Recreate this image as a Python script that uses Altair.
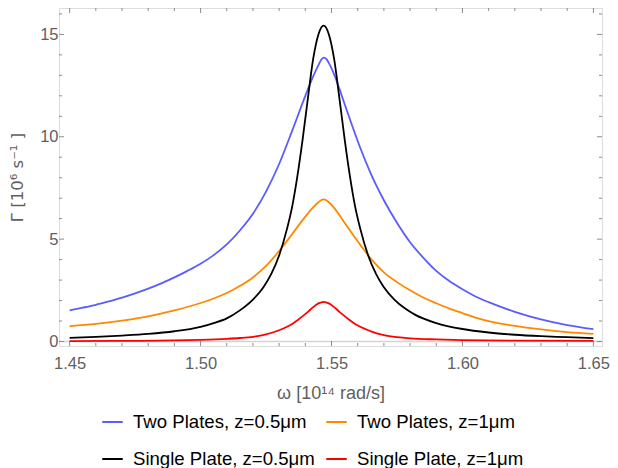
import altair as alt
import pandas as pd

# ---------------- data ----------------
series_names = ["Two Plates, z=0.5μm", "Two Plates, z=1μm",
                "Single Plate, z=0.5μm", "Single Plate, z=1μm"]
series_colors = ["#5B5BFF", "#FF8800", "#000000", "#FF0000"]

blue_w = [1.45, 1.455, 1.46, 1.465, 1.47, 1.475, 1.48, 1.485, 1.49, 1.495, 1.50,
          1.505, 1.51, 1.515, 1.52, 1.525, 1.53, 1.535, 1.54, 1.543, 1.545,
          1.546, 1.547, 1.548, 1.549, 1.551, 1.553, 1.555, 1.558, 1.561, 1.565,
          1.57, 1.575, 1.58, 1.585, 1.59, 1.595, 1.60, 1.605, 1.61, 1.62,
          1.63, 1.64, 1.65]
blue_g = [1.52, 1.65, 1.79, 1.96, 2.14, 2.35, 2.58, 2.84, 3.13, 3.45, 3.8,
          4.22, 4.74, 5.42, 6.24, 7.32, 8.67, 10.3, 12.0, 12.95, 13.5,
          13.75, 13.87, 13.8, 13.6, 13.05, 12.35, 11.6, 10.5, 9.45, 8.2,
          6.9, 5.8, 4.85, 4.1, 3.45, 2.95, 2.55, 2.2, 1.92, 1.45,
          1.08, 0.80, 0.60]

orange_w = [1.45, 1.46, 1.47, 1.48, 1.49, 1.50, 1.505, 1.51, 1.515, 1.52, 1.525,
            1.53, 1.535, 1.54, 1.543, 1.545, 1.546, 1.547, 1.548, 1.549, 1.551,
            1.553, 1.555, 1.558, 1.561, 1.565, 1.57, 1.575, 1.58, 1.585, 1.59,
            1.595, 1.60, 1.605, 1.61, 1.62, 1.63, 1.64, 1.65]
orange_g = [0.75, 0.86, 1.02, 1.23, 1.52, 1.88, 2.1, 2.37, 2.71, 3.13, 3.69,
            4.42, 5.25, 6.1, 6.55, 6.8, 6.9, 6.94, 6.9, 6.8, 6.53,
            6.18, 5.8, 5.25, 4.72, 4.05, 3.38, 2.9, 2.5, 2.15, 1.87,
            1.61, 1.39, 1.17, 1.0, 0.76, 0.59, 0.46, 0.37]

black_w = [1.45, 1.46, 1.47, 1.48, 1.49, 1.50, 1.505, 1.51, 1.515, 1.52, 1.524,
           1.527, 1.530, 1.533, 1.535, 1.537, 1.539, 1.541, 1.543, 1.545, 1.547,
           1.549, 1.551, 1.553, 1.555, 1.557, 1.559, 1.561, 1.564, 1.567, 1.570,
           1.574, 1.578, 1.582, 1.59, 1.60, 1.61, 1.62, 1.63, 1.64, 1.65]
black_g = [0.18, 0.23, 0.29, 0.37, 0.50, 0.72, 0.9, 1.13, 1.52, 2.05, 2.65,
           3.3, 4.2, 5.5, 6.6, 8.1, 9.9, 11.9, 13.8, 15.0, 15.43,
           15.0, 13.8, 11.9, 9.9, 8.1, 6.6, 5.5, 4.2, 3.3, 2.65,
           2.05, 1.62, 1.3, 0.9, 0.61, 0.44, 0.33, 0.26, 0.21, 0.16]

red_w = [1.45, 1.47, 1.49, 1.50, 1.51, 1.515, 1.52, 1.525, 1.53, 1.533, 1.535,
         1.537, 1.539, 1.541, 1.543, 1.545, 1.547, 1.549, 1.551, 1.553, 1.555,
         1.557, 1.559, 1.561, 1.564, 1.567, 1.57, 1.575, 1.58, 1.59, 1.60,
         1.62, 1.65]
red_g = [0.02, 0.03, 0.05, 0.08, 0.13, 0.17, 0.23, 0.35, 0.55, 0.72, 0.86,
         1.04, 1.24, 1.45, 1.68, 1.86, 1.94, 1.86, 1.68, 1.45, 1.24,
         1.04, 0.86, 0.72, 0.55, 0.41, 0.31, 0.21, 0.15, 0.10, 0.07,
         0.04, 0.03]

x_major = [1.45, 1.50, 1.55, 1.60, 1.65]
x_minor = [1.46, 1.47, 1.48, 1.49, 1.51, 1.52, 1.53, 1.54, 1.56, 1.57, 1.58,
           1.59, 1.61, 1.62, 1.63, 1.64]
y_major = [0, 5, 10, 15]
y_minor = [1, 2, 3, 4, 6, 7, 8, 9, 11, 12, 13, 14, 16]

# ---------------- build tables ----------------
rows = []
for name, ws, gs in zip(series_names, [blue_w, orange_w, black_w, red_w],
                        [blue_g, orange_g, black_g, red_g]):
    for w, g in zip(ws, gs):
        rows.append({"series": name, "w": w, "g": g})
df = pd.DataFrame(rows)

W, H = 543, 338
FONT = "Liberation Sans"
FRAME = "#8c8c8c"
TXT = "#5f5f5f"
xs = alt.Scale(domain=[1.44594, 1.65329], nice=False, zero=False)
ys = alt.Scale(domain=[-0.22, 16.29], nice=False, zero=False)

x_axis = alt.Axis(
    values=x_major, format=".2f", title="ω [10¹⁴ rad/s]", ticks=False, tickSize=0,
    domain=False, grid=False, labelFontSize=16.5, labelColor=TXT,
    labelPadding=9, titleFontSize=18, titleFontWeight="normal",
    titleColor=TXT, titlePadding=13, labelFont=FONT, titleFont=FONT)
y_axis = alt.Axis(
    values=y_major, format="d", title="Γ [10⁶ s⁻¹ ]", ticks=False, tickSize=0,
    domain=False, grid=False, labelFontSize=16.5, labelColor=TXT,
    labelPadding=1, titleFontSize=16.5, titleFontWeight="normal",
    titleColor=TXT, titlePadding=14, labelFont=FONT, titleFont="DejaVu Sans")


def X():
    return alt.X("w:Q", scale=xs, axis=x_axis)


def Y():
    return alt.Y("g:Q", scale=ys, axis=y_axis)


zero_line = alt.Chart(pd.DataFrame({"g": [0]})).mark_rule(
    color="#d4d4d4", strokeWidth=1.5).encode(
    y=Y(), x=alt.value(0), x2=alt.value(W))

lines = alt.Chart(df).mark_line(strokeWidth=1.8, interpolate="monotone", clip=True).encode(
    x=X(), y=Y(),
    color=alt.Color("series:N", scale=alt.Scale(domain=series_names, range=series_colors),
                    legend=alt.Legend(
                        orient="none", legendX=42, legendY=402.5, direction="horizontal",
                        columns=2, gridAlign="none", title=None, symbolType="stroke",
                        symbolSize=420, symbolStrokeWidth=2, labelFontSize=18.6,
                        labelFont=FONT, labelColor="#000000", columnPadding=7,
                        rowPadding=15, labelOffset=9, labelLimit=500)),
)


def tick_layer(vals, axis_ch, length, side):
    if axis_ch == "x":
        d = pd.DataFrame({"w": vals})
        enc = {"x": X()}
        if side == "bottom":
            enc.update(y=alt.value(H), y2=alt.value(H - length))
        else:
            enc.update(y=alt.value(0), y2=alt.value(length))
    else:
        d = pd.DataFrame({"g": vals})
        enc = {"y": Y()}
        if side == "left":
            enc.update(x=alt.value(0), x2=alt.value(length))
        else:
            enc.update(x=alt.value(W), x2=alt.value(W - length))
    return alt.Chart(d).mark_rule(color=FRAME, strokeWidth=1).encode(**enc)


ticks = [
    tick_layer(x_major, "x", 5, "bottom"), tick_layer(x_minor, "x", 3, "bottom"),
    tick_layer(x_major, "x", 5, "top"), tick_layer(x_minor, "x", 3, "top"),
    tick_layer(y_major, "y", 5, "left"), tick_layer(y_minor, "y", 3, "left"),
    tick_layer(y_major, "y", 5, "right"), tick_layer(y_minor, "y", 3, "right"),
]

chart = alt.layer(zero_line, *ticks, lines).properties(
    width=W, height=H,
    autosize=alt.AutoSizeParams(type="none"),
    padding={"left": 51, "top": 0, "right": 8, "bottom": 122},
).configure_view(stroke=FRAME, strokeWidth=1).configure(font=FONT)

chart.save("out.html", embed_options={"renderer": "svg", "actions": False})
